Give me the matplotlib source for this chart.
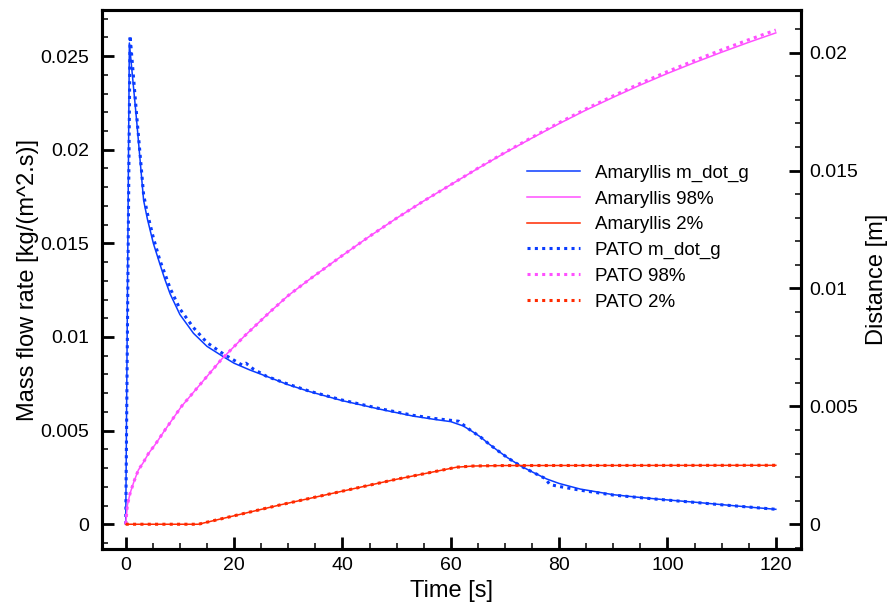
import matplotlib
matplotlib.use("Agg")
import matplotlib.pyplot as plt
from matplotlib.ticker import MultipleLocator, FuncFormatter

plt.rcParams['font.family'] = ['Liberation Sans', 'DejaVu Sans']

# mass flow rate (left axis)
t_ama_m = [0, 0.67, 2.0, 3.3, 4.0, 5.1, 6.3, 7.2, 8.2, 10, 12.5, 15, 18, 20, 22.9, 26,
           30, 34, 40, 47, 53, 57, 60, 62.3, 64, 65.4, 67, 68.5, 70.5, 72.8, 75, 77.7,
           80, 83.9, 90, 95, 99.2, 105, 110, 115, 120]
m_ama = [0, 0.0257, 0.0216, 0.0173, 0.0163, 0.0150, 0.0139, 0.0131, 0.0123, 0.0112,
         0.0102, 0.0095, 0.00895, 0.0086, 0.00824, 0.0079, 0.00745, 0.00708, 0.0066,
         0.00614, 0.00578, 0.0056, 0.00548, 0.00525, 0.00495, 0.00468, 0.0043, 0.00397,
         0.00355, 0.00313, 0.0028, 0.00242, 0.00218, 0.00188, 0.00158, 0.00143, 0.00132,
         0.00118, 0.00105, 0.00092, 0.0008]
t_pato_m = [0, 0.8, 2.0, 3.3, 4.0, 5.1, 6.3, 7.2, 8.2, 10, 12.5, 15, 18, 21.5, 22.2,
            23.5, 26, 30, 34, 40, 47, 53, 57, 60, 61.5, 62.8, 64, 65.4, 67, 68.5, 70.5,
            72.8, 75, 77.4, 78.3, 80, 83.9, 90, 95, 99.2, 105, 110, 115, 120]
m_pato = [0, 0.0261, 0.0219, 0.0176, 0.0166, 0.0153, 0.0141, 0.0134, 0.0126, 0.0115,
          0.0105, 0.0097, 0.0091, 0.0085, 0.0086, 0.0083, 0.0079, 0.00748, 0.0071,
          0.00663, 0.00617, 0.00582, 0.00565, 0.00555, 0.0055, 0.0052, 0.00495,
          0.00468, 0.0043, 0.00397, 0.00355, 0.00313, 0.0028, 0.00245, 0.00212, 0.00202,
          0.00182, 0.00156, 0.00142, 0.00131, 0.00117, 0.00104, 0.00092, 0.0008]

# 98% front (right axis)
t_98 = [0, 0.3, 0.79, 1.5, 2.33, 3.2, 4.2, 5.5, 7.25, 10.3, 14, 17.7, 22, 26.6, 30, 34,
        40, 45, 50, 55, 60, 65, 70, 75, 80, 85, 90, 95, 100, 105, 110, 115, 120]
d98_ama = [0, 0.0008, 0.0013, 0.0018, 0.0023, 0.0026, 0.0030, 0.0034, 0.0040, 0.0050,
           0.0060, 0.0070, 0.0080, 0.0090, 0.0097, 0.0104, 0.0114, 0.01221, 0.01298,
           0.01371, 0.0144, 0.01509, 0.01575, 0.01638, 0.01699, 0.01757, 0.01811,
           0.01863, 0.01912, 0.01958, 0.02002, 0.02044, 0.02084]
d98_pato = [0, 0.0008, 0.0013, 0.0018, 0.0023, 0.0026, 0.0030, 0.0034, 0.0040, 0.0050,
            0.0060, 0.0070, 0.0080, 0.0090, 0.0097, 0.0104, 0.0114, 0.01221, 0.01298,
            0.01371, 0.0144, 0.0151, 0.01577, 0.01641, 0.01703, 0.01762, 0.01817,
            0.0187, 0.0192, 0.01967, 0.02012, 0.02055, 0.02096]

# 2% front (right axis)
t_2 = [0, 13.4, 28.5, 49.4, 61.1, 64.2, 70, 120]
d2_ama = [0, 0, 0.00082, 0.00188, 0.00242, 0.00247, 0.00249, 0.0025]
d2_pato = [0, 0, 0.00082, 0.00188, 0.00242, 0.00247, 0.00249, 0.0025]

blue = '#0a3cff'
pink = '#ff50ff'
red = '#ff2a00'
dots = (0, (1, 1.4))

fig = plt.figure(figsize=(8.9, 6.1), dpi=100)
ax = fig.add_axes([0.1143, 0.1, 0.7854, 0.8836])
ax2 = ax.twinx()

l1, = ax.plot(t_ama_m, m_ama, color=blue, lw=1.1, label='Amaryllis m_dot_g')
l2, = ax2.plot(t_98, d98_ama, color=pink, lw=1.1, label='Amaryllis 98%')
l3, = ax2.plot(t_2, d2_ama, color=red, lw=1.1, label='Amaryllis 2%')
l4, = ax.plot(t_pato_m, m_pato, color=blue, lw=2.2, ls=dots, label='PATO m_dot_g')
l5, = ax2.plot(t_98, d98_pato, color=pink, lw=2.2, ls=dots, label='PATO 98%')
l6, = ax2.plot(t_2, d2_pato, color=red, lw=2.2, ls=dots, label='PATO 2%')

ax.set_xlim(-4.43, 124.6)
ax.set_ylim(-0.00132, 0.02746)
ax2.set_ylim(-0.00105, 0.02181)

fmt = FuncFormatter(lambda v, p: '{:g}'.format(round(v, 6)))
ax.xaxis.set_major_locator(MultipleLocator(20))
ax.xaxis.set_minor_locator(MultipleLocator(5))
for a in (ax, ax2):
    a.yaxis.set_major_locator(MultipleLocator(0.005))
    a.yaxis.set_minor_locator(MultipleLocator(0.001))
    a.yaxis.set_major_formatter(fmt)
    for s in a.spines.values():
        s.set_linewidth(2.2)

ax.tick_params(which='both', direction='in', top=False, right=False, labelsize=14)
ax.tick_params(which='major', length=8.5, width=2)
ax.tick_params(which='minor', length=4.3, width=1.1)
ax2.tick_params(which='both', direction='in', top=False, left=False, labelsize=14)
ax2.tick_params(which='major', length=8.5, width=2)
ax2.tick_params(which='minor', length=4.3, width=1.1)
ax.tick_params(axis='x', pad=6)
ax.tick_params(axis='y', pad=9)
ax2.tick_params(axis='y', pad=6)

ax.set_xlabel('Time [s]', fontsize=17, labelpad=4)
ax.set_ylabel('Mass flow rate [kg/(m^2.s)]', fontsize=17, labelpad=1)
ax2.set_ylabel('Distance [m]', fontsize=17, labelpad=6)

ax2.legend(handles=[l1, l2, l3, l4, l5, l6], frameon=False, fontsize=13.5,
           loc='upper left', bbox_to_anchor=(0.598, 0.7273), borderaxespad=0,
           handlelength=2.83, labelspacing=0.46, handletextpad=0.8)

fig.savefig('out.png', dpi=100)
